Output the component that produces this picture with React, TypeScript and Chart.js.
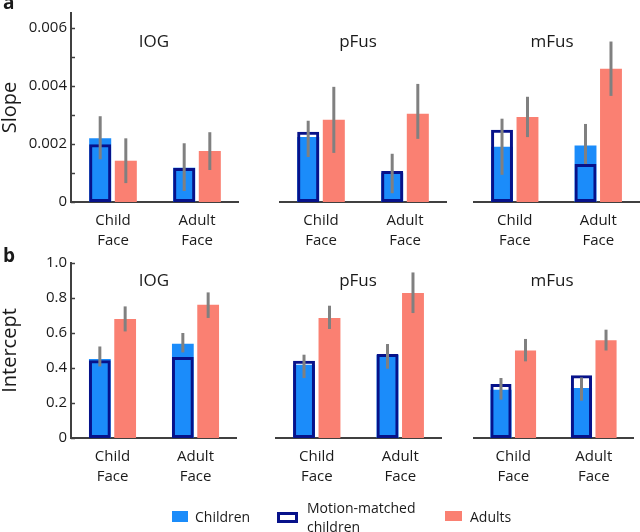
import React, { useEffect, useRef } from 'react';
import { Chart, registerables } from 'chart.js';

Chart.register(...registerables);

// ---------- data ----------
const categoryLabels = [["Child", "Face"], ["Adult", "Face"]];
const regions = ["IOG", "pFus", "mFus"];

const slopeChildren = [[0.00219, 0.00118], [0.00222, 0.00100], [0.00189, 0.00193]];
const slopeMotion = [[0.00199, 0.00117], [0.00240, 0.00106], [0.00247, 0.00130]];
const slopeAdults = [[0.00142, 0.00175], [0.00281, 0.00302], [0.00291, 0.00456]];
const slopeChildrenErr = [
  [[0.00147, 0.00295], [0.00038, 0.00202]],
  [[0.00154, 0.00278], [0.00030, 0.00165]],
  [[0.00093, 0.00285], [0.00130, 0.00267]],
];
const slopeAdultsErr = [
  [[0.00065, 0.00219], [0.00110, 0.00240]],
  [[0.00168, 0.00394], [0.00216, 0.00404]],
  [[0.00222, 0.00360], [0.00363, 0.00549]],
];

const interceptChildren = [[0.451, 0.539], [0.419, 0.475], [0.276, 0.286]];
const interceptMotion = [[0.445, 0.463], [0.442, 0.480], [0.309, 0.358]];
const interceptAdults = [[0.680, 0.762], [0.686, 0.829], [0.500, 0.558]];
const interceptChildrenErr = [
  [[0.409, 0.523], [0.489, 0.600]],
  [[0.343, 0.476], [0.396, 0.537]],
  [[0.219, 0.343], [0.213, 0.346]],
];
const interceptAdultsErr = [
  [[0.609, 0.752], [0.686, 0.832]],
  [[0.623, 0.756], [0.714, 0.946]],
  [[0.438, 0.566], [0.500, 0.619]],
];

const slopeTicks = [0, 0.001, 0.002, 0.003, 0.004, 0.005, 0.006];
const slopeTickLabels = ["0", "", "0.002", "", "0.004", "", "0.006"];
const interceptTicks = [0, 0.2, 0.4, 0.6, 0.8, 1.0];
const interceptTickLabels = ["0", "0.2", "0.4", "0.6", "0.8", "1.0"];

// ---------- styles ----------
const FONT = "'Open Sans', 'DejaVu Sans', sans-serif";
const BLUE = '#1b8cfa';
const NAVY = '#07128a';
const SALMON = '#fa8072';
const ERR = '#808080';
const AXIS = '#404040';
const TEXT = '#1a1a1a';

type PanelProps = {
  left: number; top: number; width: number; height: number;
  yAxisWidth: number; padTop: number; xAxisHeight: number;
  title: string; titleX: number; titleY: number;
  children: number[]; motion: number[]; adults: number[];
  childrenErr: number[][]; adultsErr: number[][];
  yMax: number; ticks: number[]; tickLabels: string[]; yTitle: string;
};

function Panel(p: PanelProps) {
  const ref = useRef<HTMLCanvasElement | null>(null);
  useEffect(() => {
    const canvas = ref.current;
    if (!canvas) return;
    const showY = p.yAxisWidth > 0;
    const overlay = {
      id: 'overlay',
      afterDatasetsDraw(chart: any) {
        const ctx = chart.ctx;
        const y = chart.scales.y;
        ctx.save();
        ctx.strokeStyle = ERR;
        ctx.lineWidth = 3;
        ctx.lineCap = 'butt';
        const draw = (dsIndex: number, errs: number[][]) => {
          const meta = chart.getDatasetMeta(dsIndex);
          errs.forEach((e, i) => {
            const el = meta.data[i];
            if (!el) return;
            ctx.beginPath();
            ctx.moveTo(el.x, y.getPixelForValue(e[0]));
            ctx.lineTo(el.x, y.getPixelForValue(e[1]));
            ctx.stroke();
          });
        };
        draw(1, p.childrenErr);
        draw(2, p.adultsErr);
        ctx.restore();
      },
      afterDraw(chart: any) {
        const ctx = chart.ctx;
        const area = chart.chartArea;
        const y = chart.scales.y;
        ctx.save();
        if (showY) {
          ctx.strokeStyle = AXIS;
          ctx.lineWidth = 1.5;
          p.ticks.forEach((v) => {
            const py = Math.round(y.getPixelForValue(v)) + 0.5;
            ctx.beginPath();
            ctx.moveTo(area.left, py);
            ctx.lineTo(area.left + 4, py);
            ctx.stroke();
          });
        }
        ctx.fillStyle = TEXT;
        ctx.font = `17px ${FONT}`;
        ctx.textAlign = 'center';
        ctx.textBaseline = 'middle';
        ctx.fillText(p.title, p.titleX - p.left, p.titleY - p.top);
        ctx.restore();
      },
    };

    const chart = new Chart(canvas, {
      type: 'bar',
      data: {
        labels: categoryLabels,
        datasets: [
          {
            label: 'Motion-matched children', data: p.motion, stack: 'blue',
            backgroundColor: 'rgba(0,0,0,0)', borderColor: NAVY, borderWidth: 3,
            borderSkipped: false,
          },
          { label: 'Children', data: p.children, stack: 'blue', backgroundColor: BLUE, borderWidth: 0 },
          { label: 'Adults', data: p.adults, stack: 'adult', backgroundColor: SALMON, borderWidth: 0 },
        ],
      },
      options: {
        animation: false,
        responsive: false,
        maintainAspectRatio: false,
        layout: { padding: { top: p.padTop, left: 0, right: 0, bottom: 0 } },
        datasets: { bar: { categoryPercentage: 0.61, barPercentage: 0.86 } },
        plugins: { legend: { display: false }, tooltip: { enabled: false } },
        scales: {
          x: {
            stacked: true,
            grid: { display: false, drawTicks: false },
            border: { display: true, color: AXIS, width: 2 },
            ticks: {
              color: TEXT, font: { family: FONT, size: 15, lineHeight: 1.3 },
              padding: 9, maxRotation: 0, autoSkip: false,
            },
            afterFit: (s: any) => { s.height = p.xAxisHeight; },
          },
          y: {
            display: showY,
            stacked: false,
            min: 0,
            max: p.yMax,
            grid: { display: false, drawTicks: false },
            border: { display: true, color: AXIS, width: 2 },
            ticks: {
              color: TEXT, font: { family: FONT, size: 15 }, padding: 4,
              autoSkip: false,
              callback: (_v: any, i: number) => p.tickLabels[i],
            },
            afterBuildTicks: (s: any) => { s.ticks = p.ticks.map((v) => ({ value: v })); },
            afterFit: (s: any) => { s.width = p.yAxisWidth; },
            title: {
              display: showY, text: p.yTitle, color: TEXT,
              font: { family: FONT, size: 20, lineHeight: 1.0 }, padding: 0,
            },
          },
        },
      },
      plugins: [overlay],
    } as any);
    return () => chart.destroy();
  }, []);
  return (
    <canvas
      ref={ref}
      width={p.width}
      height={p.height}
      style={{ position: 'absolute', left: p.left, top: p.top, width: p.width, height: p.height }}
    />
  );
}

const row1Boxes = [
  { left: 0, width: 239, yAxisWidth: 71, titleX: 154 },
  { left: 279, width: 168, yAxisWidth: 0, titleX: 358 },
  { left: 473, width: 167, yAxisWidth: 0, titleX: 552 },
];
const row2Boxes = [
  { left: 0, width: 237, yAxisWidth: 71, titleX: 154 },
  { left: 275, width: 167, yAxisWidth: 0, titleX: 358 },
  { left: 473, width: 161, yAxisWidth: 0, titleX: 552 },
];

const txt = (extra: React.CSSProperties): React.CSSProperties => ({
  position: 'absolute', fontFamily: FONT, color: TEXT, whiteSpace: 'nowrap', ...extra,
});

export default function App() {
  return (
    <div style={{ position: 'fixed', left: 0, top: 0, width: 640, height: 532, background: '#fff', overflow: 'hidden' }}>
      {regions.map((r, i) => (
        <Panel
          key={'s' + r}
          left={row1Boxes[i].left} top={0} width={row1Boxes[i].width} height={250}
          yAxisWidth={row1Boxes[i].yAxisWidth} padTop={12} xAxisHeight={48}
          title={r} titleX={row1Boxes[i].titleX} titleY={42.5}
          children={slopeChildren[i]} motion={slopeMotion[i]} adults={slopeAdults[i]}
          childrenErr={slopeChildrenErr[i]} adultsErr={slopeAdultsErr[i]}
          yMax={0.0065} ticks={slopeTicks} tickLabels={slopeTickLabels} yTitle="Slope"
        />
      ))}
      {regions.map((r, i) => (
        <Panel
          key={'i' + r}
          left={row2Boxes[i].left} top={250} width={row2Boxes[i].width} height={250}
          yAxisWidth={row2Boxes[i].yAxisWidth} padTop={13} xAxisHeight={62}
          title={r} titleX={row2Boxes[i].titleX} titleY={281}
          children={interceptChildren[i]} motion={interceptMotion[i]} adults={interceptAdults[i]}
          childrenErr={interceptChildrenErr[i]} adultsErr={interceptAdultsErr[i]}
          yMax={1.0} ticks={interceptTicks} tickLabels={interceptTickLabels} yTitle="Intercept"
        />
      ))}
      <div style={txt({ left: 3, top: -11, fontSize: 19, fontWeight: 700, lineHeight: '26px' })}>a</div>
      <div style={txt({ left: 3, top: 242, fontSize: 19, fontWeight: 700, lineHeight: '26px' })}>b</div>

      <div style={{ position: 'absolute', left: 172, top: 511, width: 16, height: 11, background: BLUE }} />
      <div style={txt({ left: 195, top: 507, fontSize: 14, lineHeight: '20px' })}>Children</div>

      <div style={{ position: 'absolute', left: 277, top: 512, width: 21, height: 11, boxSizing: 'border-box', border: `3px solid ${NAVY}` }} />
      <div style={txt({ left: 307, top: 498, fontSize: 14, lineHeight: '19px' })}>Motion-matched<br />children</div>

      <div style={{ position: 'absolute', left: 445, top: 511, width: 17, height: 10, background: SALMON }} />
      <div style={txt({ left: 470, top: 507, fontSize: 14, lineHeight: '20px' })}>Adults</div>
    </div>
  );
}
